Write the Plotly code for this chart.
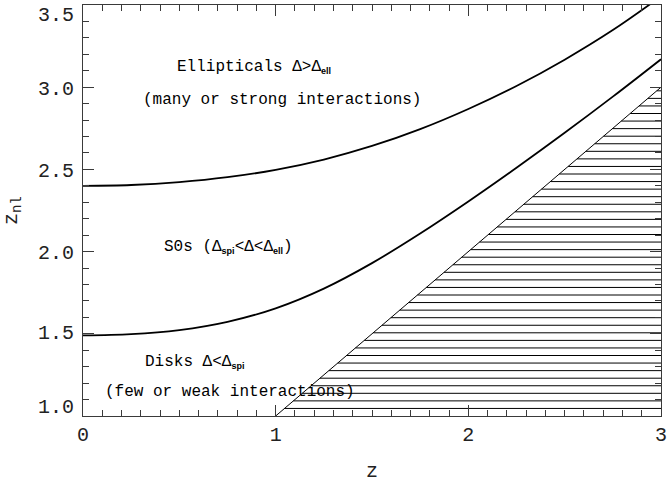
import numpy as np
import plotly.graph_objects as go

# Boundary between S0s and ellipticals: z_nl as a function of z
z_ell = [0.0, 0.25, 0.5, 0.75, 1.0, 1.25, 1.5, 1.75, 2.0, 2.25, 2.5, 2.75, 3.0]
znl_ell = [2.40, 2.405, 2.4225, 2.4525, 2.4975, 2.56, 2.6425, 2.745, 2.8675, 3.0075, 3.1675, 3.3475, 3.5525]

# Boundary between disks and S0s
z_spi = [0.0, 0.25, 0.5, 0.75, 1.0, 1.25, 1.5, 1.75, 2.0, 2.25, 2.5, 2.75, 3.0]
znl_spi = [1.49, 1.4975, 1.5225, 1.5725, 1.655, 1.775, 1.93, 2.11, 2.305, 2.51, 2.7225, 2.9425, 3.17]

# z_nl = z : forbidden region lies below this line
z_diag = [1.0, 3.0]
znl_diag = [1.0, 3.0]

x_ticks = [0, 1, 2, 3]
y_ticks = [1.0, 1.5, 2.0, 2.5, 3.0, 3.5]
y_ticklabels = ["1.0", "1.5", "2.0", "2.5", "3.0", "3.5"]
# vertical nudge (px) of each y label, pulling the end labels inside the frame
y_label_shift = [9, 0, -2, -2, -2, -10]

FONT = "Liberation Mono"
AXC = "#3a3a3a"
TXT = "#222222"

fig = go.Figure()

# horizontal hatching of the region z_nl < z
hatch_step = 0.046
hx, hy = [], []
for lev in np.arange(z_diag[0] + hatch_step, znl_diag[1] + 1e-9, hatch_step):
    hx += [lev, z_diag[1], None]
    hy += [lev, lev, None]
fig.add_trace(go.Scatter(x=hx, y=hy, mode="lines",
                         line=dict(color="black", width=1), hoverinfo="skip"))

fig.add_trace(go.Scatter(x=z_diag, y=znl_diag, mode="lines",
                         line=dict(color="black", width=1)))
fig.add_trace(go.Scatter(x=z_ell, y=znl_ell, mode="lines", line_shape="spline",
                         line=dict(color="black", width=1.8)))
fig.add_trace(go.Scatter(x=z_spi, y=znl_spi, mode="lines", line_shape="spline",
                         line=dict(color="black", width=1.8)))

# invisible trace so the top/right tick axes are drawn
fig.add_trace(go.Scatter(x=[0], y=[1], xaxis="x2", yaxis="y2", mode="markers",
                         marker=dict(opacity=0), hoverinfo="skip"))

SUB = "<sub><span style='font-family:Liberation Sans;font-size:9px;font-weight:bold'>{}</span></sub>"

labels = [
    ("Ellipticals Δ>Δ" + SUB.format("ell"), 0.89, 3.123),
    ("(many or strong interactions)", 1.033, 2.922),
    ("S0s (Δ" + SUB.format("spi") + "<Δ<Δ" + SUB.format("ell") + ")", 0.753, 2.028),
    ("Disks Δ<Δ" + SUB.format("spi"), 0.581, 1.328),
    ("(few or weak interactions)", 0.763, 1.146),
]
for txt, x, y in labels:
    fig.add_annotation(x=x, y=y, text=txt, showarrow=False,
                       font=dict(family=FONT, size=16, color="black"))

for val, lab, sh in zip(y_ticks, y_ticklabels, y_label_shift):
    fig.add_annotation(x=0, y=val, xref="x", yref="y", text=lab, showarrow=False,
                       xanchor="right", yanchor="middle", xshift=-7, yshift=sh,
                       font=dict(family=FONT, size=20, color=TXT))

# x-axis title, centred under the frame
fig.add_annotation(x=0.5, y=0, xref="paper", yref="paper", text="z", showarrow=False,
                   xanchor="center", yanchor="middle", yshift=-55,
                   font=dict(family=FONT, size=20, color=TXT))

minor_common = dict(ticks="inside", ticklen=6, tickwidth=1, tickcolor=AXC, dtick=0.1, showgrid=False)
axis_common = dict(
    showgrid=False, zeroline=False, ticks="inside", ticklen=11, tickwidth=1.2, tickcolor=AXC,
    minor=minor_common, automargin=False,
)

fig.update_layout(
    width=670, height=484,
    margin=dict(l=83, r=9, t=5, b=68),
    plot_bgcolor="white", paper_bgcolor="white",
    showlegend=False,
    xaxis=dict(range=[0, 3], tickvals=x_ticks, ticktext=[str(t) for t in x_ticks],
               showline=True, linecolor=AXC, linewidth=1.2, mirror=True,
               tickfont=dict(family=FONT, size=20, color=TXT),
               **axis_common),
    yaxis=dict(range=[1.0, 3.5], tickvals=y_ticks, showticklabels=False,
               showline=True, linecolor=AXC, linewidth=1.2, mirror=True,
               title=dict(text="z<sub>nl</sub>", font=dict(family=FONT, size=20, color=TXT), standoff=62),
               **axis_common),
    xaxis2=dict(range=[0, 3], overlaying="x", side="top", anchor="y",
                tickvals=x_ticks, showticklabels=False, showline=False, **axis_common),
    yaxis2=dict(range=[1.0, 3.5], overlaying="y", side="right", anchor="x",
                tickvals=y_ticks, showticklabels=False, showline=False, **axis_common),
)

fig.write_html("out.html")
